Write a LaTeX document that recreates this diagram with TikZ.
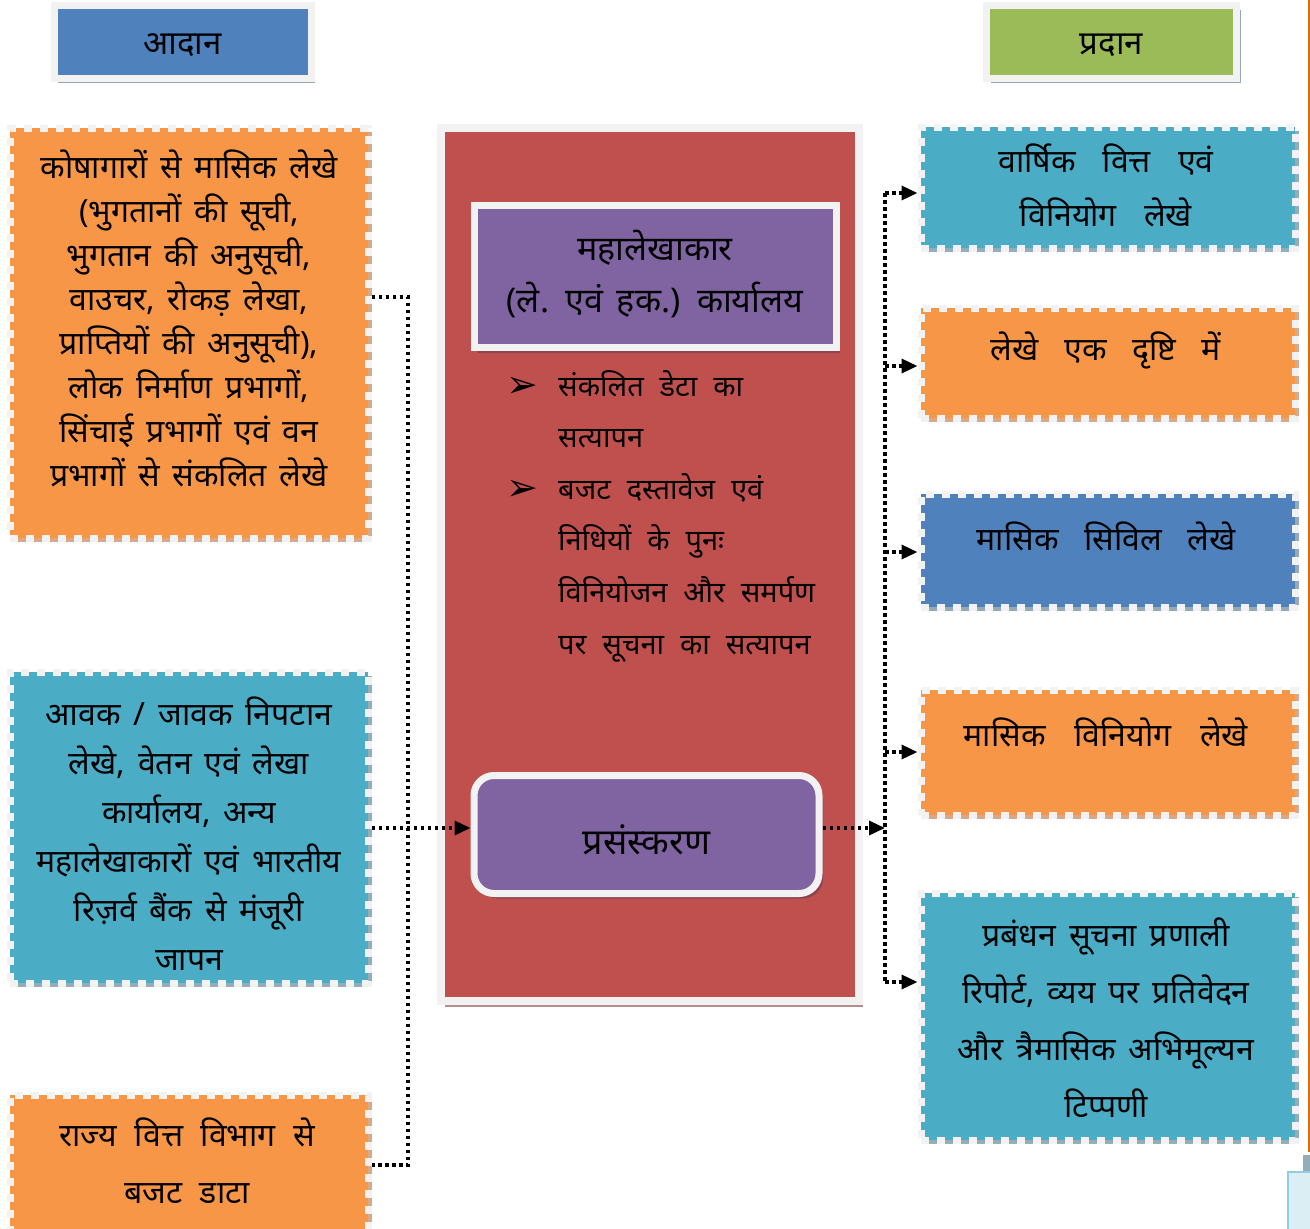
\documentclass[tikz,border=0pt]{standalone}
\usepackage{fontspec}
\setmainfont[Script=Devanagari]{Noto Sans}
\newfontfamily\symfont{DejaVu Sans}
\usepackage{xcolor}
\usetikzlibrary{shadows,arrows.meta}

\definecolor{orangebox}{HTML}{F79646}
\definecolor{tealbox}{HTML}{4BACC6}
\definecolor{bluebox}{HTML}{4F81BD}
\definecolor{redbox}{HTML}{C0504D}
\definecolor{purplebox}{HTML}{8064A2}
\definecolor{greenbox}{HTML}{9BBB59}
\definecolor{framegray}{HTML}{F2F2F2}
\definecolor{orangeshade}{HTML}{D6A98A}
\definecolor{tealshade}{HTML}{93AEB8}
\definecolor{blueshade}{HTML}{97A6BA}
\definecolor{redshade}{HTML}{B38E8E}
\definecolor{purpleshade}{HTML}{8A4452}
\definecolor{edgeorange}{HTML}{E36C09}

\newcommand{\widewords}{\spaceskip=0.4em\relax}

\tikzset{
  dotline/.style={line width=3.5pt, dash pattern=on 3.5pt off 3.5pt, black},
  dotarrow/.style={dotline, -{Triangle[length=16pt,width=14pt]}},
  outbox/.style={rectangle, fill=#1, draw=framegray, line width=7pt,
    dash pattern=on 8pt off 8pt, inner sep=0pt},
  headbox/.style={rectangle, fill=#1, draw=framegray, line width=7pt, inner sep=0pt,
    drop shadow={shadow xshift=4pt, shadow yshift=-5pt, opacity=1, fill=blueshade}},
  boxtext/.style 2 args={align=center, inner sep=0pt, font=\fontsize{#1}{#2}\selectfont\widewords},
  gap/.style={execute at begin node={\spaceskip=#1\relax}},
}

\begin{document}
\begin{tikzpicture}[x=1pt,y=-1pt]
  \clip (0,0) rectangle (1310,1229);
  \fill[white] (0,0) rectangle (1310,1229);

  % headings
  \node[headbox=bluebox, minimum width=257pt, minimum height=73pt] (inhead) at (182.5,41.5) {};
  \node[boxtext={33}{40}] (inheadtxt) at (182.5,45) {आदान};
  \node[headbox=greenbox, minimum width=250pt, minimum height=73pt] (outhead) at (1111.5,41.5) {};
  \node[boxtext={33}{40}] (outheadtxt) at (1111.5,45) {प्रदान};

  % input boxes
  \node[outbox=orangebox, minimum width=358pt, minimum height=410pt,
    drop shadow={shadow xshift=4pt, shadow yshift=-4pt, opacity=1, fill=orangeshade}] (L1) at (189,333) {};
  \node[boxtext={32}{44}] (L1txt) at (189,318) {कोषागारों से मासिक लेखे\\(भुगतानों की सूची,\\भुगतान की अनुसूची,\\वाउचर, रोकड़ लेखा,\\प्राप्तियों की अनुसूची),\\लोक निर्माण प्रभागों,\\सिंचाई प्रभागों एवं वन\\प्रभागों से संकलित लेखे};

  \node[outbox=tealbox, minimum width=358pt, minimum height=311pt,
    drop shadow={shadow xshift=4pt, shadow yshift=-4pt, opacity=1, fill=tealshade}] (L2) at (189,827.5) {};
  \node[boxtext={32}{49}] (L2txt) at (189,834) {आवक / जावक निपटान\\लेखे, वेतन एवं लेखा\\कार्यालय, अन्य\\महालेखाकारों एवं भारतीय\\रिज़र्व बैंक से मंजूरी\\जापन};

  \node[outbox=orangebox, minimum width=358pt, minimum height=145pt,
    drop shadow={shadow xshift=4pt, shadow yshift=-4pt, opacity=1, fill=orangeshade}] (L3) at (189,1167.5) {};
  \node[boxtext={32}{57}, gap=0.55em] (L3txt) at (187,1161) {राज्य वित्त विभाग से\\बजट डाटा};

  % office
  \node[rectangle, fill=redbox, draw=framegray, line width=8pt, inner sep=0pt,
    minimum width=418pt, minimum height=873pt,
    drop shadow={shadow xshift=4pt, shadow yshift=-6pt, opacity=1, fill=redshade}] (office) at (650,564.5) {};
  \node[rectangle, fill=purplebox, draw=framegray, line width=7pt, inner sep=0pt,
    minimum width=362pt, minimum height=142pt,
    drop shadow={shadow xshift=4pt, shadow yshift=-5pt, opacity=1, fill=purpleshade}] (AG) at (655,276.5) {};
  \node[boxtext={34}{52}] (AGtxt) at (655,274) {महालेखाकार\\(ले. एवं हक.) कार्यालय};

  \node[font=\symfont\fontsize{38}{38}\selectfont] (bul1) at (522,387) {➢};
  \node[font=\symfont\fontsize{38}{38}\selectfont] (bul2) at (522,490) {➢};
  \node[boxtext={29}{51.6}, gap=0.55em, align=left, anchor=west] (checks) at (558,516) {संकलित डेटा का\\सत्यापन\\बजट दस्तावेज एवं\\निधियों के पुनः\\विनियोजन और समर्पण\\पर सूचना का सत्यापन};

  \node[rectangle, rounded corners=20pt, fill=purplebox, draw=framegray, line width=7pt, inner sep=0pt,
    minimum width=345pt, minimum height=118pt,
    drop shadow={shadow xshift=4pt, shadow yshift=-5pt, opacity=1, fill=purpleshade}] (proc) at (646.5,834.5) {};
  \node[boxtext={36}{40}] (proctxt) at (646.5,840) {प्रसंस्करण};

  % output boxes
  \node[outbox=tealbox, minimum width=374pt, minimum height=121pt,
    drop shadow={shadow xshift=4pt, shadow yshift=-4pt, opacity=1, fill=tealshade}] (R1) at (1108,187.5) {};
  \node[boxtext={32}{54}, gap=0.85em] (R1txt) at (1106,185) {वार्षिक वित्त एवं\\विनियोग लेखे};
  \node[outbox=orangebox, minimum width=374pt, minimum height=110pt,
    drop shadow={shadow xshift=4pt, shadow yshift=-4pt, opacity=1, fill=orangeshade}] (R2) at (1108,363) {};
  \node[boxtext={32}{40}, gap=0.8em] (R2txt) at (1106,350) {लेखे एक दृष्टि में};
  \node[outbox=bluebox, minimum width=374pt, minimum height=113pt,
    drop shadow={shadow xshift=4pt, shadow yshift=-4pt, opacity=1, fill=blueshade}] (R3) at (1108,550.5) {};
  \node[boxtext={32}{40}, gap=0.8em] (R3txt) at (1106,536) {मासिक सिविल लेखे};
  \node[outbox=orangebox, minimum width=374pt, minimum height=125pt,
    drop shadow={shadow xshift=4pt, shadow yshift=-4pt, opacity=1, fill=orangeshade}] (R4) at (1108,752.5) {};
  \node[boxtext={32}{40}, gap=0.9em] (R4txt) at (1106,732) {मासिक विनियोग लेखे};
  \node[outbox=tealbox, minimum width=374pt, minimum height=247pt,
    drop shadow={shadow xshift=4pt, shadow yshift=-4pt, opacity=1, fill=tealshade}] (R5) at (1108,1016.5) {};
  \node[boxtext={32}{57}] (R5txt) at (1106,1018) {प्रबंधन सूचना प्रणाली\\रिपोर्ट, व्यय पर प्रतिवेदन\\और त्रैमासिक अभिमूल्यन\\टिप्पणी};

  % connectors
  \coordinate (lbustop) at (408,297);
  \coordinate (lbusbot) at (408,1165);
  \draw[dotline] (L1.east |- lbustop) -- (lbustop) -- (lbusbot) -- (L3.east |- lbusbot);
  \draw[dotarrow] (L2.east |- 0,828) -- (proc.west |- 0,828);

  \coordinate (rbustop) at (885,193);
  \coordinate (rbusmid) at (885,828);
  \coordinate (rbusbot) at (885,982);
  \draw[dotarrow] (proc.east |- rbusmid) -- (rbusmid);
  \draw[dotline] (rbustop) -- (rbusbot);
  \foreach \b/\yy in {R1/193,R2/366,R3/552,R4/752}
    \draw[dotarrow] (885,\yy) -- (\b.west |- 0,\yy);
  \draw[dotarrow] (rbusbot) -- (R5.west |- rbusbot);

  % page edge bits
  \draw[edgeorange, line width=2pt] (1309,0) -- (1309,1152);
  \fill[tealshade] (1303,1155) rectangle (1310,1172);
  \draw[fill=tealbox!20, draw=tealbox!60, line width=2pt] (1288,1172) rectangle (1320,1240);
\end{tikzpicture}
\end{document}
